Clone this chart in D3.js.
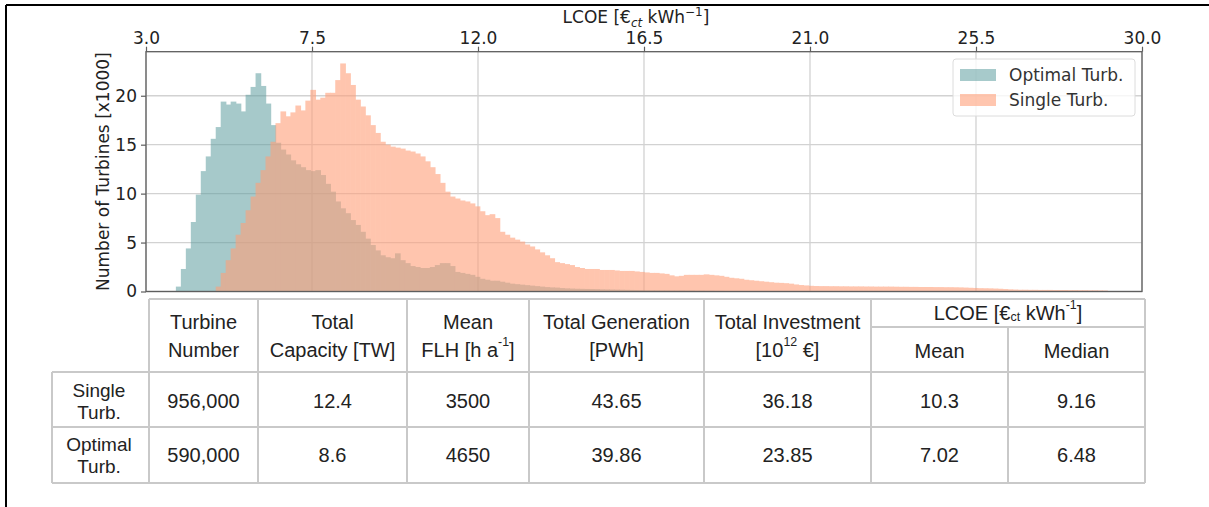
<!DOCTYPE html>
<html>
<head>
<meta charset="utf-8">
<script src="https://cdn.jsdelivr.net/npm/d3@7"></script>
<style>
  body { margin: 0; background: #fff; }
  svg { display: block; }
</style>
</head>
<body>
<script>
// ---- Histogram data: number of turbines (x1000) per LCOE bin ----
const binStart = 3.0;      // first bin edge, €ct/kWh
const binWidth = 0.135;    // bin width, €ct/kWh
const optimalTurb = [
  0, 0, 0, 0, 0, 0,
  0.5, 2.3, 4.4, 7.1, 9.9, 12.3, 13.8, 15.6, 16.8, 19.4,
  19.1, 19.4, 19.2, 18.4, 20.1, 20.9, 22.3, 21.0, 19.2, 17.0,
  15.2, 14.5, 14.0, 13.4, 13.0, 12.7, 12.4, 12.3, 12.4, 11.9,
  11.0, 10.2, 9.2, 8.5, 8.0, 7.3, 6.8, 6.1, 5.4, 4.75,
  4.2, 3.7, 3.5, 3.4, 3.9, 3.2, 2.9, 2.6, 2.5, 2.4,
  2.4, 2.5, 2.7, 2.9, 2.9, 2.6, 2.0, 1.9, 1.8, 1.7,
  1.5, 1.3, 1.2, 1.1, 1.1, 1.0, 0.9, 0.8, 0.75, 0.7,
  0.65, 0.6, 0.55, 0.5, 0.45, 0.42, 0.4, 0.35, 0.32, 0.3,
  0.28, 0.27, 0.26, 0.25, 0.24, 0.22, 0.21, 0.2, 0.19, 0.18,
  0.17, 0.16, 0.15, 0.14, 0.13, 0.12, 0.12, 0.11, 0.11, 0.1,
  0.1, 0.1, 0.09, 0.09, 0.08, 0.08, 0.07, 0.07, 0.06, 0.06,
  0.05, 0.05, 0.05, 0.04, 0.04, 0.04, 0.03, 0.03, 0.03, 0.02,
  0.02, 0.02, 0.02, 0.01, 0.01
];
const singleTurb = [
  0, 0, 0, 0, 0, 0, 0, 0, 0, 0, 0, 0, 0, 0,
  0.5, 1.9, 3.2, 4.4, 5.8, 7.0, 8.3, 9.7, 11.1, 12.4,
  13.8, 15.3, 17.2, 18.4, 17.9, 18.3, 19.0, 18.5, 19.5, 20.6,
  19.6, 19.8, 20.3, 20.3, 21.6, 23.3, 22.3, 21.1, 19.6, 18.9,
  18.0, 17.0, 16.2, 15.3, 15.0, 14.8, 14.7, 14.6, 14.4, 14.3,
  14.1, 13.8, 13.3, 12.7, 12.0, 11.1, 10.2, 9.7, 9.5, 9.3,
  9.2, 9.0, 8.7, 8.2, 7.8, 7.9, 7.5, 6.1, 5.8, 5.5,
  5.3, 5.1, 4.8, 4.6, 4.3, 4.0, 3.7, 3.4, 3.0, 2.9,
  2.8, 2.7, 2.5, 2.4, 2.3, 2.3, 2.3, 2.2, 2.2, 2.2,
  2.15, 2.1, 2.1, 2.1, 2.05, 2.0, 1.95, 1.9, 1.9, 1.85,
  1.8, 1.65, 1.55, 1.6, 1.7, 1.7, 1.7, 1.7, 1.75, 1.7,
  1.65, 1.6, 1.5, 1.4, 1.35, 1.3, 1.2, 1.15, 1.1, 1.05,
  1.0, 0.95, 0.9, 0.88, 0.85, 0.8, 0.72, 0.66, 0.62, 0.58,
  0.56, 0.55, 0.55, 0.54, 0.54, 0.53, 0.53, 0.52, 0.52, 0.52,
  0.51, 0.51, 0.5, 0.5, 0.5, 0.5, 0.49, 0.48, 0.48, 0.47,
  0.47, 0.46, 0.46, 0.46, 0.45, 0.45, 0.44, 0.44, 0.43, 0.42,
  0.4, 0.38, 0.36, 0.34, 0.33, 0.32, 0.3, 0.28, 0.25, 0.22,
  0.2, 0.18, 0.18, 0.17, 0.17, 0.16, 0.16, 0.16, 0.15, 0.15,
  0.15, 0.14, 0.14, 0.13, 0.13, 0.12, 0.12, 0.11, 0.1
];
const xTicks = [3.0, 7.5, 12.0, 16.5, 21.0, 25.5, 30.0];
const yTicks = [0, 5, 10, 15, 20];
const legendNames = ["Optimal Turb.", "Single Turb."];

// ---- Summary table ----
const colHeaders = [["Turbine", "Number"], ["Total", "Capacity [TW]"], ["Mean", "FLH [h a^-1]"],
                    ["Total Generation", "[PWh]"], ["Total Investment", "[10^12 €]"]];
const lcoeHeader = "LCOE [€_ct kWh^-1]";
const lcoeSubHeaders = ["Mean", "Median"];
const rowLabels = [["Single", "Turb."], ["Optimal", "Turb."]];
const turbineNumber = ["956,000", "590,000"];
const totalCapacity = ["12.4", "8.6"];
const meanFLH = ["3500", "4650"];
const totalGeneration = ["43.65", "39.86"];
const totalInvestment = ["36.18", "23.85"];
const lcoeMean = ["10.3", "7.02"];
const lcoeMedian = ["9.16", "6.48"];

const W = 1209, H = 507;
const svg = d3.select("body").append("svg").attr("width", W).attr("height", H);

// outer frame (top and left edges)
svg.append("line").attr("x1", 6).attr("x2", W).attr("y1", 5).attr("y2", 5)
  .attr("stroke", "#000").attr("stroke-width", 2);
svg.append("line").attr("x1", 6).attr("x2", 6).attr("y1", 5).attr("y2", H)
  .attr("stroke", "#000").attr("stroke-width", 2);

// ---- Histogram panel ----
const plot = { left: 146, right: 1142, top: 51.7, bottom: 291.5 };
const x = d3.scaleLinear().domain([3, 30]).range([plot.left, plot.right]);
const y = d3.scaleLinear().domain([0, 24.5]).range([plot.bottom, plot.top]);
const axisFont = "'DejaVu Sans', sans-serif";

const gGrid = svg.append("g");
gGrid.selectAll("line.vx").data(xTicks).join("line")
  .attr("x1", d => x(d)).attr("x2", d => x(d)).attr("y1", plot.top).attr("y2", plot.bottom)
  .attr("stroke", "#d2d2d2").attr("stroke-width", 1.3);
gGrid.selectAll("line.hy").data(yTicks).join("line")
  .attr("x1", plot.left).attr("x2", plot.right).attr("y1", d => y(d)).attr("y2", d => y(d))
  .attr("stroke", "#d2d2d2").attr("stroke-width", 1.3);

// each series is one translucent group, so neighbouring bars blend without seams
function drawHist(values, color, opacity) {
  const bins = values.map((v, i) => ({ x0: binStart + i * binWidth, x1: binStart + (i + 1) * binWidth, v }))
    .filter(b => b.v > 0);
  svg.append("g").attr("opacity", opacity).attr("fill", color)
    .selectAll("rect").data(bins).join("rect")
    .attr("x", b => x(b.x0))
    .attr("width", b => x(b.x1) - x(b.x0) + 0.7)
    .attr("y", b => y(b.v))
    .attr("height", b => y(0) - y(b.v));
}
drawHist(optimalTurb, "#5f9ea0", 0.55);
drawHist(singleTurb, "#ffa07a", 0.6);

// spines
svg.append("rect").attr("x", plot.left).attr("y", plot.top)
  .attr("width", plot.right - plot.left).attr("height", plot.bottom - plot.top)
  .attr("fill", "none").attr("stroke", "#5e5e5e").attr("stroke-width", 1.3);

// axes
const xAxis = svg.append("g").attr("transform", `translate(0,${plot.top})`)
  .call(d3.axisTop(x).tickValues(xTicks).tickFormat(d3.format(".1f")).tickSize(5).tickPadding(3));
const yAxis = svg.append("g").attr("transform", `translate(${plot.left},0)`)
  .call(d3.axisLeft(y).tickValues(yTicks).tickFormat(d3.format("d")).tickSize(5).tickPadding(4));
[xAxis, yAxis].forEach(a => {
  a.select(".domain").remove();
  a.selectAll(".tick line").attr("stroke", "#5e5e5e").attr("stroke-width", 1.2);
  a.selectAll(".tick text").attr("fill", "#222").style("font-family", axisFont).style("font-size", "17px");
});

// axis titles
const xTitle = svg.append("text").attr("x", 636).attr("y", 23).attr("text-anchor", "middle")
  .attr("fill", "#222").style("font-family", axisFont).style("font-size", "17px");
xTitle.append("tspan").text("LCOE [€");
xTitle.append("tspan").text("ct").attr("dy", 4).style("font-size", "12px").style("font-style", "italic");
xTitle.append("tspan").text(" kWh").attr("dy", -4);
xTitle.append("tspan").text("−1").attr("dy", -7).style("font-size", "12px");
xTitle.append("tspan").text("]").attr("dy", 7);

svg.append("text").attr("transform", `translate(109,${(plot.top + plot.bottom) / 2}) rotate(-90)`)
  .attr("text-anchor", "middle").attr("fill", "#222")
  .style("font-family", axisFont).style("font-size", "17px")
  .text("Number of Turbines [x1000]");

// legend
const lg = svg.append("g");
lg.append("rect").attr("x", 953).attr("y", 59).attr("width", 182).attr("height", 57).attr("rx", 3)
  .attr("fill", "#fff").attr("fill-opacity", 0.8).attr("stroke", "#dcdcdc").attr("stroke-width", 1);
const legendColors = [["#5f9ea0", 0.55], ["#ffa07a", 0.6]];
legendNames.forEach((name, i) => {
  lg.append("rect").attr("x", 960).attr("y", 69 + i * 25).attr("width", 36).attr("height", 12)
    .attr("fill", legendColors[i][0]).attr("fill-opacity", legendColors[i][1]);
  lg.append("text").attr("x", 1009).attr("y", 81 + i * 25).attr("fill", "#333")
    .style("font-family", axisFont).style("font-size", "17px").text(name);
});

// ---- Table ----
const tFont = "'Liberation Sans', Arial, sans-serif";
const colX = [149, 258, 407, 529, 704, 871, 1008, 1145];
const rowY = { top: 299, split: 327, head: 372, r1: 427, r2: 483 };
const rowLeft = 52;
const tg = svg.append("g").attr("stroke", "#c9c9c9").attr("stroke-width", 2);
const hline = (x1, x2, yy) => tg.append("line").attr("x1", x1).attr("x2", x2).attr("y1", yy).attr("y2", yy);
const vline = (xx, y1, y2) => tg.append("line").attr("x1", xx).attr("x2", xx).attr("y1", y1).attr("y2", y2);
hline(colX[0], colX[7], rowY.top);
hline(colX[5], colX[7], rowY.split);
hline(rowLeft, colX[7], rowY.head);
hline(rowLeft, colX[7], rowY.r1);
hline(rowLeft, colX[7], rowY.r2);
vline(rowLeft, rowY.head, rowY.r2);
colX.forEach((cx, i) => vline(cx, i === 6 ? rowY.split : rowY.top, rowY.r2));

// rich text: "^" marks a superscript run to the end of the word, "_" a subscript run
function richText(parent, str, cx, cy, size) {
  const t = parent.append("text").attr("x", cx).attr("y", cy).attr("text-anchor", "middle")
    .attr("dominant-baseline", "central").attr("fill", "#222")
    .style("font-family", tFont).style("font-size", size + "px");
  const parts = str.split(/([\^_][^\s\]]+)/).filter(s => s.length);
  let shift = 0;
  parts.forEach(p => {
    if (p[0] === "^" || p[0] === "_") {
      const d = p[0] === "^" ? -size * 0.4 : size * 0.22;
      t.append("tspan").text(p.slice(1)).attr("dy", d - shift).style("font-size", (size * 0.62) + "px");
      shift = d;
    } else {
      t.append("tspan").text(p).attr("dy", -shift);
      shift = 0;
    }
  });
  return t;
}

const fs = 20;
colHeaders.forEach((lines, i) => {
  const cx = (colX[i] + colX[i + 1]) / 2;
  richText(svg, lines[0], cx, 322, fs);
  richText(svg, lines[1], cx, 350, fs);
});
richText(svg, lcoeHeader, (colX[5] + colX[7]) / 2, 313, fs);
lcoeSubHeaders.forEach((h, i) => richText(svg, h, (colX[5 + i] + colX[6 + i]) / 2, 351, fs));

const columns = [turbineNumber, totalCapacity, meanFLH, totalGeneration, totalInvestment, lcoeMean, lcoeMedian];
const rowCenters = [401, 455];
rowLabels.forEach((lab, r) => {
  richText(svg, lab[0], 99, rowCenters[r] - 11, 19);
  richText(svg, lab[1], 99, rowCenters[r] + 11, 19);
  columns.forEach((col, c) => richText(svg, col[r], (colX[c] + colX[c + 1]) / 2, rowCenters[r], fs));
});
</script>
</body>
</html>
